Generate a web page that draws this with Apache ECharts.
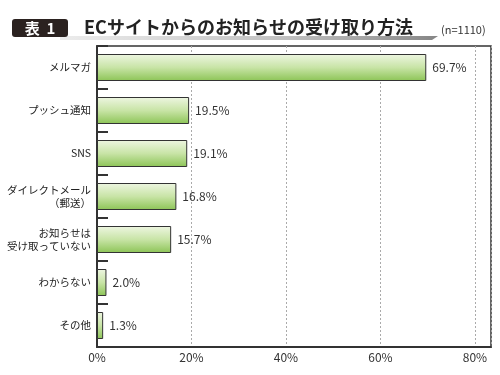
<!DOCTYPE html>
<html><head><meta charset="utf-8">
<script src="https://cdn.jsdelivr.net/npm/echarts@6/dist/echarts.min.js"></script>
<style>html,body{margin:0;padding:0;background:#fff}#c{width:500px;height:375px}</style>
</head><body><div id="c"></div>
<script>
const categories = ['メルマガ','プッシュ通知','SNS','ダイレクトメール\n（郵送）','お知らせは\n受け取っていない','わからない','その他'];
const values = [69.7, 19.5, 19.1, 16.8, 15.7, 2.0, 1.3];
const xTicks = [0, 20, 40, 60, 80];
const titleText = 'ECサイトからのお知らせの受け取り方法';
const badgeText = '表  1';
const noteText = '(n=1110)';

const FONT = '"Noto Sans CJK JP", "Noto Sans", sans-serif';
const chart = echarts.init(document.getElementById('c'), null, {renderer:'canvas'});
chart.setOption({
  animation:false,
  backgroundColor:'#fff',
  grid:{left:97,right:9,top:46,bottom:28,show:true,borderColor:'#333',borderWidth:1.5,backgroundColor:'transparent'},
  xAxis:{
    type:'value',min:0,max:83.4,interval:20,
    axisLine:{show:true,lineStyle:{color:'#333',width:2}},
    axisTick:{show:false},
    splitLine:{show:true,lineStyle:{color:'#aaa',type:[2,2],width:1}},
    axisLabel:{fontFamily:FONT,fontSize:12,color:'#333',margin:4,
      formatter:v=> xTicks.indexOf(v)>=0 ? v+'%' : ''}
  },
  yAxis:{
    type:'category',inverse:true,data:categories,
    axisLine:{show:true,lineStyle:{color:'#333',width:2}},
    axisTick:{show:true,inside:true,length:11,lineStyle:{color:'#333',width:2}},
    axisLabel:{fontFamily:FONT,fontSize:10.5,color:'#222',margin:6,lineHeight:13,align:'right'}
  },
  series:[{
    type:'bar',data:values,barWidth:27,
    itemStyle:{
      color:new echarts.graphic.LinearGradient(0,0,0,1,[
        {offset:0,color:'#eef6e2'},{offset:0.5,color:'#c8e4a6'},{offset:1,color:'#8cc456'}]),
      borderColor:'#333',borderWidth:1
    },
    label:{show:true,position:'right',distance:6,fontFamily:FONT,fontSize:12,color:'#333',
      formatter:p=>p.value.toFixed(1)+'%'}
  }],
  graphic:[
    {type:'polygon',z:1,shape:{points:[[60,36],[438,36],[432,40],[60,40]]},
      style:{fill:new echarts.graphic.LinearGradient(0,0,1,0,[
        {offset:0,color:'rgba(160,160,160,0.2)'},{offset:0.6,color:'rgba(150,150,150,0.6)'},{offset:1,color:'rgba(120,120,120,0.9)'}])}},
    {type:'rect',z:3,shape:{x:12,y:19,width:56,height:18,r:3},style:{fill:'#2b2220'}},
    {type:'text',z:4,x:40,y:28,style:{text:badgeText,fill:'#fff',font:'bold 15px '+FONT,align:'center',verticalAlign:'middle'}},
    {type:'text',z:4,x:84,y:27,style:{text:titleText,fill:'#222',font:'bold 18px '+FONT,verticalAlign:'middle'}},
    {type:'text',z:4,x:441,y:30,style:{text:noteText,fill:'#333',font:'11px '+FONT,verticalAlign:'middle'}}
  ]
});
</script></body></html>
